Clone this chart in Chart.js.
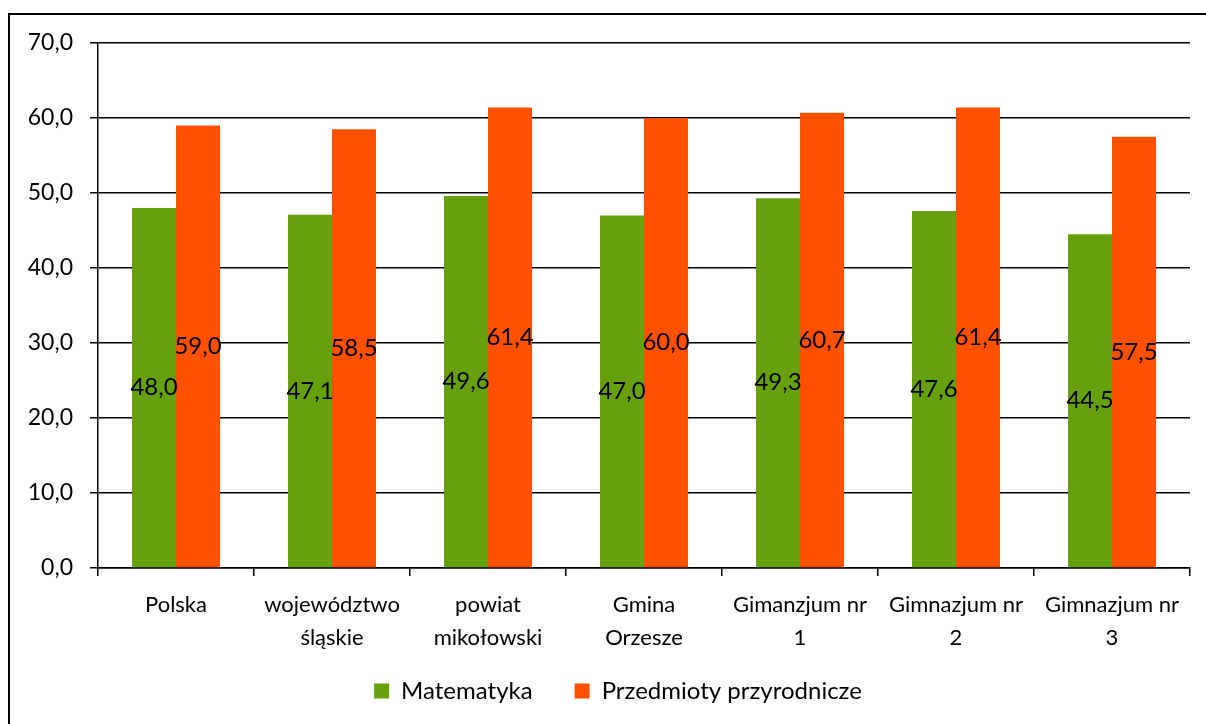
<!DOCTYPE html>
<html>
<head>
<meta charset="utf-8">
<script src="https://cdn.jsdelivr.net/npm/chart.js@4/dist/chart.umd.min.js"></script>
<style>
html,body{margin:0;padding:0;background:#fff;}
#wrap{width:1206px;height:724px;position:relative;}
</style>
</head>
<body>
<div id="wrap"><canvas id="c" width="1206" height="724"></canvas></div>
<script>
const categories = [
  ["Polska"],
  ["województwo", "śląskie"],
  ["powiat", "mikołowski"],
  ["Gmina", "Orzesze"],
  ["Gimanzjum nr", "1"],
  ["Gimnazjum nr", "2"],
  ["Gimnazjum nr", "3"]
];
const seriesNames = ["Matematyka", "Przedmioty przyrodnicze"];
const matematyka = [48.0, 47.1, 49.6, 47.0, 49.3, 47.6, 44.5];
const przyrodnicze = [59.0, 58.5, 61.4, 60.0, 60.7, 61.4, 57.5];
const yTicks = [0, 10, 20, 30, 40, 50, 60, 70];

const FONT = "Lato, 'Open Sans', sans-serif";
const fmt = v => v.toFixed(1).replace('.', ',');

const frame = {
  id: 'frame',
  afterDraw(chart) {
    const ctx = chart.ctx;
    ctx.save();
    ctx.strokeStyle = '#000';
    ctx.lineWidth = 2;
    ctx.strokeRect(9, 14, 1400, 900);
    ctx.restore();
  }
};

const valueLabels = {
  id: 'valueLabels',
  afterDatasetsDraw(chart) {
    const ctx = chart.ctx;
    ctx.save();
    ctx.font = '24px ' + FONT;
    ctx.fillStyle = '#000';
    ctx.textAlign = 'center';
    ctx.textBaseline = 'middle';
    chart.data.datasets.forEach((ds, i) => {
      chart.getDatasetMeta(i).data.forEach((bar, j) => {
        const p = bar.getProps(['x', 'y', 'base'], true);
        ctx.fillText(fmt(ds.data[j]), p.x, (p.y + p.base) / 2);
      });
    });
    ctx.restore();
  }
};

new Chart(document.getElementById('c'), {
  type: 'bar',
  data: {
    labels: categories,
    datasets: [
      { label: seriesNames[0], data: matematyka, backgroundColor: '#66A00C' },
      { label: seriesNames[1], data: przyrodnicze, backgroundColor: '#FF5000' }
    ]
  },
  options: {
    responsive: false,
    animation: false,
    devicePixelRatio: 1,
    layout: { padding: { top: 43, right: 0, left: 30, bottom: 11 } },
    datasets: { bar: { categoryPercentage: 0.564, barPercentage: 1.0 } },
    plugins: {
      legend: {
        position: 'bottom',
        labels: {
          font: { family: FONT, size: 24 },
          color: '#000',
          boxWidth: 15,
          boxHeight: 15,
          padding: 42
        }
      },
      tooltip: { enabled: false }
    },
    scales: {
      x: {
        grid: { offset: true, drawOnChartArea: false, drawTicks: true, tickLength: 8, color: '#000', lineWidth: 1.5 },
        border: { color: '#000', width: 1.5 },
        ticks: { font: { family: FONT, size: 22, lineHeight: 1.5 }, color: '#000', maxRotation: 0, autoSkip: false, padding: 12 },
        afterFit(s) { s.height = 69; s._computeLabelArea = () => undefined; }
      },
      y: {
        min: 0, max: 70,
        afterBuildTicks(s) { s.ticks = yTicks.map(v => ({ value: v })); },
        grid: { color: '#000', lineWidth: 1.5, tickLength: 8 },
        border: { color: '#000', width: 1.5 },
        ticks: { font: { family: FONT, size: 23 }, color: '#000', padding: 17, callback: v => fmt(v) },
        afterFit(s) { s.width = 68; s._computeLabelArea = () => undefined; }
      },
      y2: {
        position: 'right',
        display: true,
        grid: { display: false },
        border: { display: false },
        ticks: { display: false },
        afterFit(s) { s.width = 16; }
      }
    }
  },
  plugins: [frame, valueLabels]
});
</script>
</body>
</html>
